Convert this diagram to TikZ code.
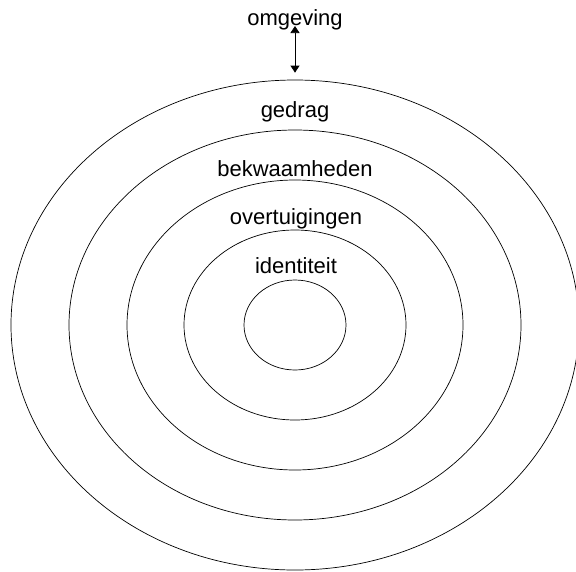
\documentclass[tikz,border=0pt]{standalone}
\usepackage{fontspec}
\setmainfont{Liberation Sans}
\usetikzlibrary{shapes.geometric,arrows.meta}

\begin{document}
\begin{tikzpicture}[x=1pt, y=-1pt,
    every node/.style={font=\fontsize{22}{26}\selectfont, inner sep=0pt},
    label/.style={anchor=base},
    ring/.style n args={2}{draw, ellipse, line width=0.7pt, minimum width=#1, minimum height=#2},
    pijl/.style={{Triangle[width=9pt,length=7pt]}-{Triangle[width=9pt,length=7pt]}, line width=0.7pt}]
    \useasboundingbox (0,0) rectangle (576,571);

    % Rings
    \node[ring={568}{490}] (ring1) at (295,325) {};
    \node[ring={452}{390}] (ring2) at (295,325) {};
    \node[ring={336}{290}] (ring3) at (295,325) {};
    \node[ring={222}{190}] (ring4) at (295,325) {};
    \node[ring={102}{90}]  (ring5) at (295,325) {};

    % Labels
    \node[label] (omgeving) at (295,25) {omgeving};
    \node[label] (gedrag) at (295,117) {gedrag};
    \node[label] (bekwaam) at (295,176) {bekwaamheden};
    \node[label] (overtuig) at (296,224) {overtuigingen};
    \node[label] (ident) at (296,273) {identiteit};

    % Arrow
    \draw[pijl, shorten <=1pt, shorten >=7pt] (omgeving.base) -- (ring1.north);
\end{tikzpicture}
\end{document}
